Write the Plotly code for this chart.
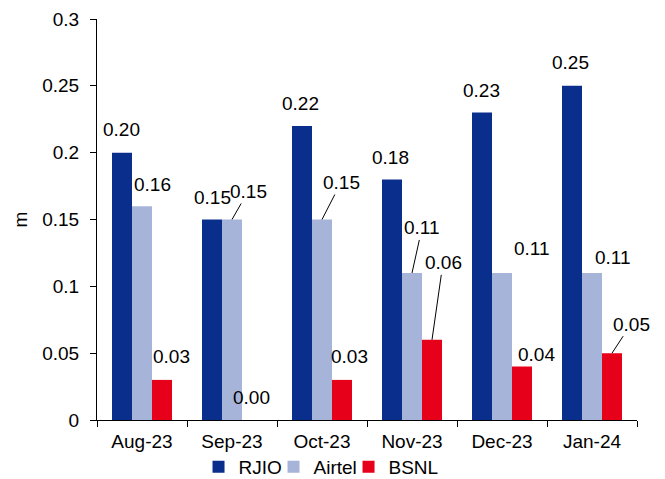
import plotly.graph_objects as go

months = ["Aug-23", "Sep-23", "Oct-23", "Nov-23", "Dec-23", "Jan-24"]
rjio = [0.20, 0.15, 0.22, 0.18, 0.23, 0.25]
airtel = [0.16, 0.15, 0.15, 0.11, 0.11, 0.11]
bsnl = [0.03, 0.00, 0.03, 0.06, 0.04, 0.05]

series = [("RJIO", rjio, "#0A2E8C"), ("Airtel", airtel, "#A7B4DA"), ("BSNL", bsnl, "#E60019")]

# label placement styles (pixel offsets); arrow=True draws a leader line
label_style = {
    "RJIO": [(-1, 23, False), (0, 22, False), (-2, 22, False), (-2, 22, False), (-1, 22, False), (-2, 23, False)],
    "Airtel": [(10, 22, False), (16, -28, True), (19, -37, True), (10, -45, True), (30, 24, False), (21, 15, False)],
    "BSNL": [(9, 23, False), (-1, 23, False), (7, 23, False), (11, -77, True), (14, 12, False), (19, -29, True)],
}
legend_widths = {"RJIO": 30, "Airtel": 30, "BSNL": 60}

FONT = "Liberation Sans, Arial, sans-serif"
bargap = 1 / 3
barw = (1 - bargap) / len(series)

fig = go.Figure()
for name, vals, color in series:
    fig.add_trace(go.Bar(x=months, y=vals, name=name, legendwidth=legend_widths[name],
                         marker=dict(color=color, line=dict(width=0))))

annotations = []
for si, (name, vals, color) in enumerate(series):
    off = (si - (len(series) - 1) / 2) * barw
    for ci, v in enumerate(vals):
        dx, dy, arrow = label_style[name][ci]
        txt = f"{v:.2f}"
        if arrow:
            annotations.append(dict(x=ci + off, y=v, xref="x", yref="y", text=txt, showarrow=True,
                                    arrowhead=0, arrowwidth=1, arrowcolor="black", standoff=0,
                                    ax=dx, ay=dy, font=dict(size=19, color="black", family=FONT)))
        else:
            annotations.append(dict(x=ci + off, y=v, xref="x", yref="y", text=txt, showarrow=False,
                                    xanchor="center", yanchor="middle", xshift=dx, yshift=dy,
                                    font=dict(size=19, color="black", family=FONT)))

fig.update_layout(
    width=665, height=479,
    margin=dict(l=97, r=28, t=19, b=59, autoexpand=False),
    paper_bgcolor="white", plot_bgcolor="white",
    font=dict(family=FONT, size=19, color="black"),
    barmode="group", bargap=bargap, bargroupgap=0,
    annotations=annotations,
    showlegend=True,
    legend=dict(orientation="h", x=0.188, xanchor="left", y=-0.117, yanchor="middle",
                font=dict(size=19, family=FONT, color="black"),
                entrywidthmode="pixels", bgcolor="rgba(0,0,0,0)"),
    xaxis=dict(type="category", range=[-0.5, len(months) - 0.5], autorange=False,
               showline=True, linecolor="black", linewidth=1,
               ticks="outside", tickson="boundaries", ticklen=6, tickcolor="black",
               ticklabelstandoff=4, automargin=False,
               showgrid=False, tickfont=dict(size=19, family=FONT, color="black")),
    yaxis=dict(range=[0, 0.3], autorange=False, dtick=0.05, showline=True, linecolor="black", linewidth=1,
               ticks="outside", ticklen=6, tickcolor="black", showgrid=False, zeroline=False,
               ticklabelstandoff=7, automargin=False,
               tickfont=dict(size=19, family=FONT, color="black"),
               title=dict(text="m", standoff=9, font=dict(size=19, family=FONT, color="black"))),
)

fig.write_html("out.html")
